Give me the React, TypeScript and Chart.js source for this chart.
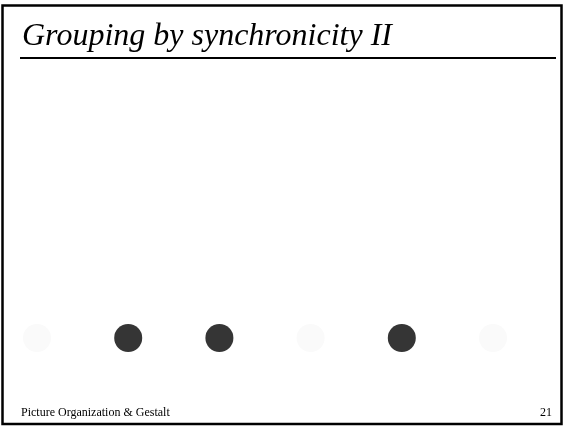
import React, { useEffect, useRef } from "react";
import { Chart, registerables } from "chart.js";

Chart.register(...registerables);

const titleText = "Grouping by synchronicity II";
const footerLeft = "Picture Organization & Gestalt";
const footerRight = "21";

// dot positions along the row and whether each dot is "on" (flashing) in this frame
const dotPositions = [1, 2, 3, 4, 5, 6];
const dotLevel = [0, 0, 0, 0, 0, 0];
const dotOn = [false, true, true, false, true, false];

const onColor = "#353535";
const offColor = "#fafafa";

const slidePlugin = {
  id: "slideFrame",
  beforeDraw(chart: any) {
    const { ctx, width, height } = chart;
    ctx.save();
    ctx.fillStyle = "#ffffff";
    ctx.fillRect(0, 0, width, height);
    // frame
    ctx.strokeStyle = "#000000";
    ctx.lineWidth = 2.5;
    ctx.strokeRect(2.5, 5.5, width - 5, height - 7.5);
    // title
    ctx.fillStyle = "#000000";
    ctx.font = "italic 32px 'Liberation Serif', 'Times New Roman', serif";
    ctx.textBaseline = "alphabetic";
    ctx.textAlign = "left";
    ctx.fillText(titleText, 22, 45);
    // underline
    ctx.lineWidth = 2;
    ctx.beginPath();
    ctx.moveTo(20, 58);
    ctx.lineTo(556, 58);
    ctx.stroke();
    // footer
    ctx.font = "12px 'Liberation Serif', 'Times New Roman', serif";
    ctx.fillText(footerLeft, 21, 416);
    ctx.textAlign = "right";
    ctx.fillText(footerRight, 552, 416);
    ctx.restore();
  },
};

export default function App() {
  const ref = useRef<HTMLCanvasElement>(null);
  useEffect(() => {
    document.body.style.margin = "0";
    if (!ref.current) return;
    const chart = new Chart(ref.current, {
      type: "scatter",
      data: {
        datasets: [
          {
            data: dotPositions.map((x, i) => ({ x, y: dotLevel[i] })),
            pointRadius: 14,
            pointHoverRadius: 14,
            pointBorderWidth: 0,
            pointBackgroundColor: dotOn.map((o) => (o ? onColor : offColor)),
            pointBorderColor: dotOn.map((o) => (o ? onColor : offColor)),
          },
        ],
      },
      options: {
        responsive: false,
        animation: false,
        events: [],
        layout: { padding: 0, autoPadding: false },
        plugins: {
          legend: { display: false },
          title: { display: false },
          tooltip: { enabled: false },
        },
        scales: {
          x: { type: "linear", min: 0.5943, max: 6.7785, display: false },
          y: { type: "linear", min: -1, max: 3.84, display: false },
        },
      },
      plugins: [slidePlugin],
    });
    return () => chart.destroy();
  }, []);
  return <canvas ref={ref} width={564} height={426} style={{ display: "block" }} />;
}
